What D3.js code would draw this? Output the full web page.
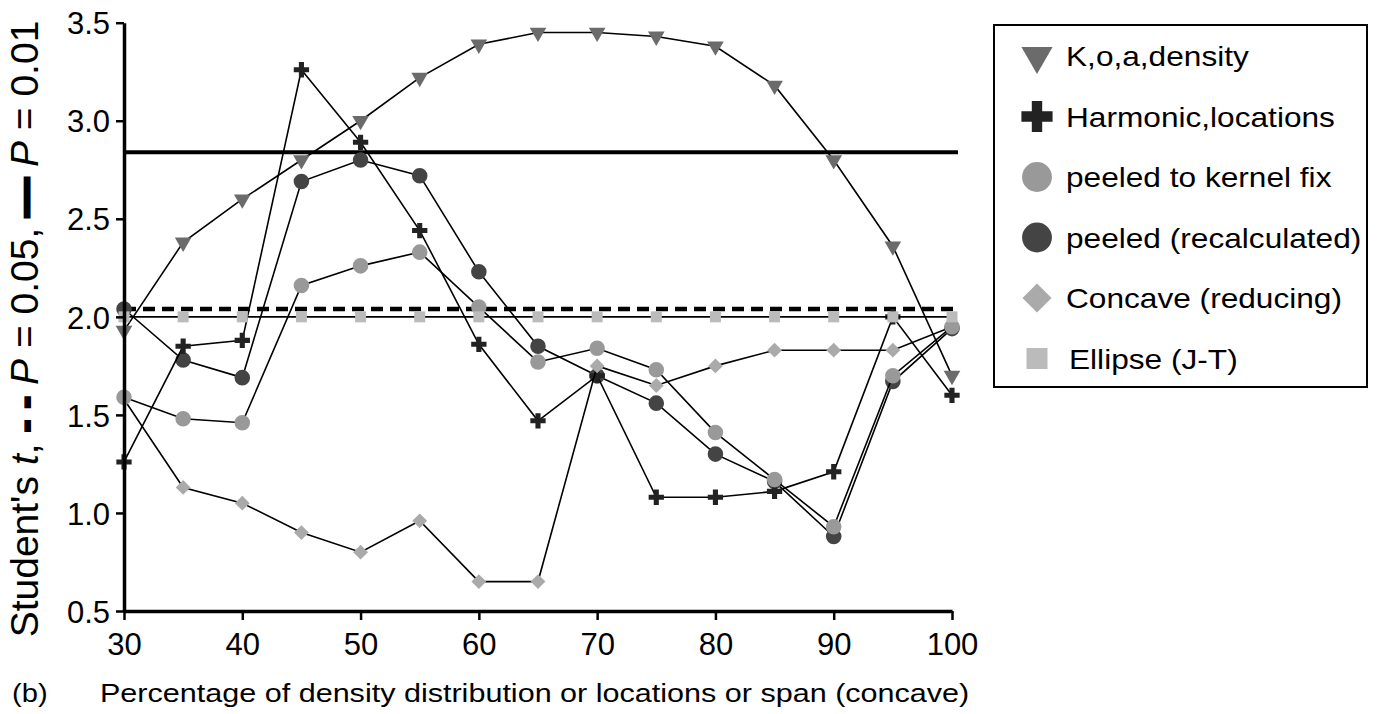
<!DOCTYPE html>
<html>
<head>
<meta charset="utf-8">
<script src="https://cdn.jsdelivr.net/npm/d3@7"></script>
<style>
  body { margin: 0; background: #fff; }
  svg { font-family: "Liberation Sans", Arial, sans-serif; }
</style>
</head>
<body>
<div id="chart"></div>
<script>
// x categories (percentage)
var percents = [30, 35, 40, 45, 50, 55, 60, 65, 70, 75, 80, 85, 90, 95, 100];

// Student's t per series
var koaDensity   = [1.93, 2.38, 2.60, 2.80, 3.00, 3.22, 3.39, 3.45, 3.45, 3.43, 3.38, 3.18, 2.80, 2.36, 1.70];
var harmonicLoc  = [1.26, 1.85, 1.88, 3.26, 2.89, 2.44, 1.86, 1.47, 1.70, 1.08, 1.08, 1.11, 1.21, 2.00, 1.60];
var peeledKernel = [1.59, 1.48, 1.46, 2.16, 2.26, 2.33, 2.05, 1.77, 1.84, 1.73, 1.41, 1.17, 0.93, 1.70, 1.95];
var peeledRecalc = [2.04, 1.78, 1.69, 2.69, 2.80, 2.72, 2.23, 1.85, 1.70, 1.56, 1.30, 1.16, 0.88, 1.67, 1.94];
var concave      = [1.58, 1.13, 1.05, 0.90, 0.80, 0.96, 0.65, 0.65, 1.75, 1.65, 1.75, 1.83, 1.83, 1.83, 1.95];
var ellipse      = [2.00, 2.00, 2.00, 2.00, 2.00, 2.00, 2.00, 2.00, 2.00, 2.00, 2.00, 2.00, 2.00, 2.00, 2.00];

// critical values
var tCrit05 = 2.04;
var tCrit01 = 2.84;

var xTicks = [30, 40, 50, 60, 70, 80, 90, 100];
var yTicks = [0.5, 1.0, 1.5, 2.0, 2.5, 3.0, 3.5];

var width = 1381, height = 714;

var svg = d3.select("#chart").append("svg")
    .attr("width", width)
    .attr("height", height);

var xScale = d3.scaleLinear().domain([30, 100]).range([124, 952]);
var yScale = d3.scaleLinear().domain([0.5, 3.5]).range([611, 22.7]);

// markers, listed in drawing order
var series = [
    {name: "K,o,a,density", values: koaDensity, fill: "#6b6b6b", type: d3.symbolTriangle, size: 120, legSize: 420, rot: 180},
    {name: "peeled (recalculated)", values: peeledRecalc, fill: "#444444", type: d3.symbolCircle, size: 190, legSize: 700, rot: 0},
    {name: "Harmonic,locations", values: harmonicLoc, fill: "#222222", type: d3.symbolCross, size: 130, legSize: 540, rot: 0},
    {name: "Concave (reducing)", values: concave, fill: "#aaaaaa", type: d3.symbolSquare, size: 110, legSize: 420, rot: 45},
    {name: "peeled to kernel fix", values: peeledKernel, fill: "#999999", type: d3.symbolCircle, size: 190, legSize: 700, rot: 0},
    {name: "Ellipse (J-T)", values: ellipse, fill: "#bbbbbb", type: d3.symbolSquare, size: 121, legSize: 441, rot: 0}
];
var legendOrder = ["K,o,a,density", "Harmonic,locations", "peeled to kernel fix",
    "peeled (recalculated)", "Concave (reducing)", "Ellipse (J-T)"];

// reference lines
svg.append("line")
    .attr("x1", xScale(30)).attr("x2", 958)
    .attr("y1", yScale(tCrit01)).attr("y2", yScale(tCrit01))
    .attr("stroke", "#000").attr("stroke-width", 4);
svg.append("line")
    .attr("x1", xScale(30)).attr("x2", 958)
    .attr("y1", yScale(tCrit05)).attr("y2", yScale(tCrit05))
    .attr("stroke", "#000").attr("stroke-width", 4.5)
    .attr("stroke-dasharray", "12,7");

var line = d3.line()
    .x((d, i) => xScale(percents[i]))
    .y(d => yScale(d));

series.forEach(function(s) {
    svg.append("path")
        .attr("d", line(s.values))
        .attr("fill", "none")
        .attr("stroke", "#000")
        .attr("stroke-width", 1.6);
    svg.append("g")
        .selectAll("path")
        .data(s.values)
        .enter()
        .append("path")
        .attr("d", d3.symbol().type(s.type).size(s.size))
        .attr("transform", (d, i) => `translate(${xScale(percents[i])},${yScale(d)}) rotate(${s.rot})`)
        .attr("fill", s.fill);
});

// axes
var yAxis = d3.axisLeft(yScale)
    .tickValues(yTicks)
    .tickFormat(d3.format(".1f"))
    .tickSize(8)
    .tickSizeOuter(0)
    .tickPadding(6);
var gy = svg.append("g")
    .attr("transform", `translate(${xScale(30)},0)`)
    .call(yAxis);

var xAxis = d3.axisBottom(xScale)
    .tickValues(xTicks)
    .tickSize(9)
    .tickSizeOuter(0)
    .tickPadding(13);
var gx = svg.append("g")
    .attr("transform", `translate(0,${yScale(0.5)})`)
    .call(xAxis);

[gx, gy].forEach(function(g) {
    g.select(".domain").attr("stroke-width", 3.5);
    g.selectAll(".tick line").attr("stroke-width", 2.5);
    g.selectAll("text")
        .attr("font-size", 31)
        .attr("font-family", "Liberation Sans, Arial, sans-serif")
        .attr("fill", "#000");
});
gy.selectAll("text").attr("dy", "0.36em");

// y axis title
var yTitle = svg.append("text")
    .attr("transform", "translate(38,329) rotate(-90)")
    .attr("text-anchor", "middle")
    .attr("font-size", 39);
yTitle.append("tspan").text("Student's ");
yTitle.append("tspan").attr("font-style", "italic").text("t");
yTitle.append("tspan").text(", ");
yTitle.append("tspan").attr("font-weight", "bold").attr("stroke", "#000").attr("stroke-width", 2).text("- -");
yTitle.append("tspan").text(" ");
yTitle.append("tspan").attr("font-style", "italic").text("P");
yTitle.append("tspan").text(" = 0.05, ");
yTitle.append("tspan").attr("font-weight", "bold").attr("stroke", "#000").attr("stroke-width", 3).text("\u2014");
yTitle.append("tspan").text(" ");
yTitle.append("tspan").attr("font-style", "italic").text("P");
yTitle.append("tspan").text(" = 0.01");

// x axis title (glyphs are wide in the source, so stretch horizontally)
svg.append("text")
    .attr("transform", "translate(12,702) scale(1.12,1)")
    .attr("font-size", 26)
    .text("(b)");
svg.append("text")
    .attr("transform", "translate(100,702) scale(1.175,1)")
    .attr("font-size", 26)
    .text("Percentage of density distribution or locations or span (concave)");

// legend
var legend = svg.append("g");
legend.append("rect")
    .attr("x", 994).attr("y", 25)
    .attr("width", 373).attr("height", 362)
    .attr("fill", "#fff")
    .attr("stroke", "#000")
    .attr("stroke-width", 2);

legendOrder.forEach(function(name, i) {
    var s = series.find(d => d.name === name);
    var cy = 56 + i * 60.5;
    legend.append("path")
        .attr("d", d3.symbol().type(s.type).size(s.legSize))
        .attr("transform", `translate(1037,${cy}) rotate(${s.rot})`)
        .attr("fill", s.fill);
    legend.append("text")
        .attr("transform", `translate(${name === "Ellipse (J-T)" ? 1069 : 1066},${cy}) scale(1.13,1)`)
        .attr("dy", "0.36em")
        .attr("font-size", 28)
        .text(name);
});
</script>
</body>
</html>
